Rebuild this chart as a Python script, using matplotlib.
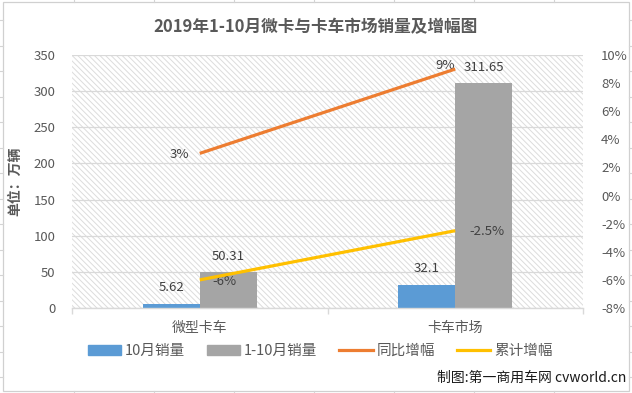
import matplotlib
matplotlib.use("Agg")
import matplotlib.pyplot as plt
from matplotlib.patches import Rectangle, Patch
from matplotlib.lines import Line2D
import numpy as np

plt.rcParams['font.family'] = ['Noto Sans CJK SC', 'DejaVu Sans']
plt.rcParams['hatch.color'] = '#DCDCDC'
plt.rcParams['hatch.linewidth'] = 0.7

# ---- data ----
categories = ['微型卡车', '卡车市场']
oct_sales = [5.62, 32.1]
ytd_sales = [50.31, 311.65]
yoy_growth = [3, 9]          # 同比增幅 (%)
cum_growth = [-6, -2.5]      # 累计增幅 (%)
yoy_labels = ['3%', '9%']
cum_labels = ['-6%', '-2.5%']
left_ticks = [0, 50, 100, 150, 200, 250, 300, 350]
right_ticks = [-8, -6, -4, -2, 0, 2, 4, 6, 8, 10]
series_names = ['10月销量', '1-10月销量', '同比增幅', '累计增幅']
title = '2019年1-10月微卡与卡车市场销量及增幅图'

C_BLUE = '#5B9BD5'
C_GRAY = '#A5A5A5'
C_ORANGE = '#ED7D31'
C_YELLOW = '#FFC000'
TXT = '#595959'
LBL = '#404040'
GRID = '#D9D9D9'

W, H = 632, 393
fig = plt.figure(figsize=(W / 100, H / 100), dpi=100)

def fx(px):
    return px / W

def fy(py):
    return 1 - py / H

# spreadsheet background grid ticks + chart border
for k in range(16):
    y = 20 + 25.5 * k
    fig.add_artist(Line2D([0, fx(3)], [fy(y), fy(y)], color='#D4D4D4', lw=0.8))
    fig.add_artist(Line2D([fx(629), 1], [fy(y), fy(y)], color='#D4D4D4', lw=0.8))
for k in range(8):
    x = 74 + 80 * k
    fig.add_artist(Line2D([fx(x), fx(x)], [fy(0), fy(2)], color='#D4D4D4', lw=0.8))
    fig.add_artist(Line2D([fx(x), fx(x)], [fy(391), 0], color='#D4D4D4', lw=0.8))
fig.add_artist(Rectangle((fx(3), fy(391)), fx(629) - fx(3), fy(2) - fy(391),
                         transform=fig.transFigure, facecolor='white',
                         edgecolor='#D0D0D0', lw=0.9, zorder=0))

ax = fig.add_axes([fx(72), fy(308), fx(583) - fx(72), fy(55) - fy(308)])
ax.set_zorder(1)
ax.patch.set_visible(False)
ax.add_patch(Rectangle((0, 0), 1, 1, transform=ax.transAxes, facecolor='white',
                       edgecolor='#DCDCDC', hatch='\\' * 6, lw=0, zorder=0))

x = np.arange(len(categories))
bw = 0.223
ax.bar(x - bw / 2, oct_sales, bw, color=C_BLUE, zorder=3)
ax.bar(x + bw / 2, ytd_sales, bw, color=C_GRAY, zorder=3)

ax.set_xlim(-0.5, 1.5)
ax.set_ylim(0, 350)
ax.set_yticks(left_ticks)
ax.yaxis.grid(True, color=GRID, lw=0.9, zorder=1)
ax.set_axisbelow(True)
for s in ['top', 'left', 'right']:
    ax.spines[s].set_visible(False)
ax.spines['bottom'].set_color(GRID)
ax.spines['bottom'].set_linewidth(1.0)
ax.spines['bottom'].set_zorder(4)
ax.set_xticks(x)
ax.set_xticklabels(categories, fontsize=10, color=TXT)
ax.tick_params(axis='x', which='major', length=0, pad=9)
ax.set_xticks([-0.5, 0.5, 1.5], minor=True)
ax.tick_params(axis='x', which='minor', length=4, color=GRID, width=1.0)
ax.tick_params(axis='y', length=0, labelsize=9.5, labelcolor=TXT, pad=12)
ax.set_ylabel('单位：万辆', fontsize=10, color=TXT, fontweight='bold', labelpad=8)

for i in range(len(categories)):
    ax.annotate(f'{oct_sales[i]:g}', (x[i] - bw / 2, oct_sales[i]), xytext=(0, 16),
                textcoords='offset pixels', ha='center', va='center', fontsize=9.5, color=LBL, zorder=6)
    ax.annotate(f'{ytd_sales[i]:g}', (x[i] + bw / 2, ytd_sales[i]), xytext=(0, 15),
                textcoords='offset pixels', ha='center', va='center', fontsize=9.5, color=LBL, zorder=6)

ax2 = ax.twinx()
ax2.set_zorder(2)
ax2.set_ylim(-8, 10)
ax2.set_yticks(right_ticks)
ax2.set_yticklabels([f'{t}%' for t in right_ticks])
ax2.tick_params(axis='y', length=0, labelsize=9.5, labelcolor=TXT, pad=13)
for s in ax2.spines.values():
    s.set_visible(False)
ax2.plot(x, yoy_growth, color=C_ORANGE, lw=2.3, solid_capstyle='butt', zorder=5)
ax2.plot(x, cum_growth, color=C_YELLOW, lw=2.3, solid_capstyle='butt', zorder=5)

yoy_off = [(-20, -1), (-10, 4)]
cum_off = [(25, -2), (32, -1)]
for i in range(len(categories)):
    ax2.annotate(yoy_labels[i], (x[i], yoy_growth[i]), xytext=yoy_off[i],
                 textcoords='offset pixels', ha='center', va='center', fontsize=9.5, color=LBL)
    ax2.annotate(cum_labels[i], (x[i], cum_growth[i]), xytext=cum_off[i],
                 textcoords='offset pixels', ha='center', va='center', fontsize=9.5, color=LBL)

fig.text(fx(316), fy(27), title, ha='center', va='center', fontsize=12,
         fontweight='bold', color=TXT)

handles = [Patch(color=C_BLUE), Patch(color=C_GRAY),
           Line2D([], [], color=C_ORANGE, lw=2.3), Line2D([], [], color=C_YELLOW, lw=2.3)]
leg = fig.legend(handles, series_names, loc='center', bbox_to_anchor=(fx(320), fy(351)),
                 ncol=4, frameon=False, fontsize=10.5, handlelength=2.3, handleheight=0.65,
                 handletextpad=0.25, columnspacing=1.5, borderaxespad=0)
for t in leg.get_texts():
    t.set_color(TXT)

fig.text(fx(626), fy(378), '制图:第一商用车网 cvworld.cn', ha='right', va='center',
         fontsize=10, color='#1A1A1A')

fig.savefig('out.png', dpi=100)
